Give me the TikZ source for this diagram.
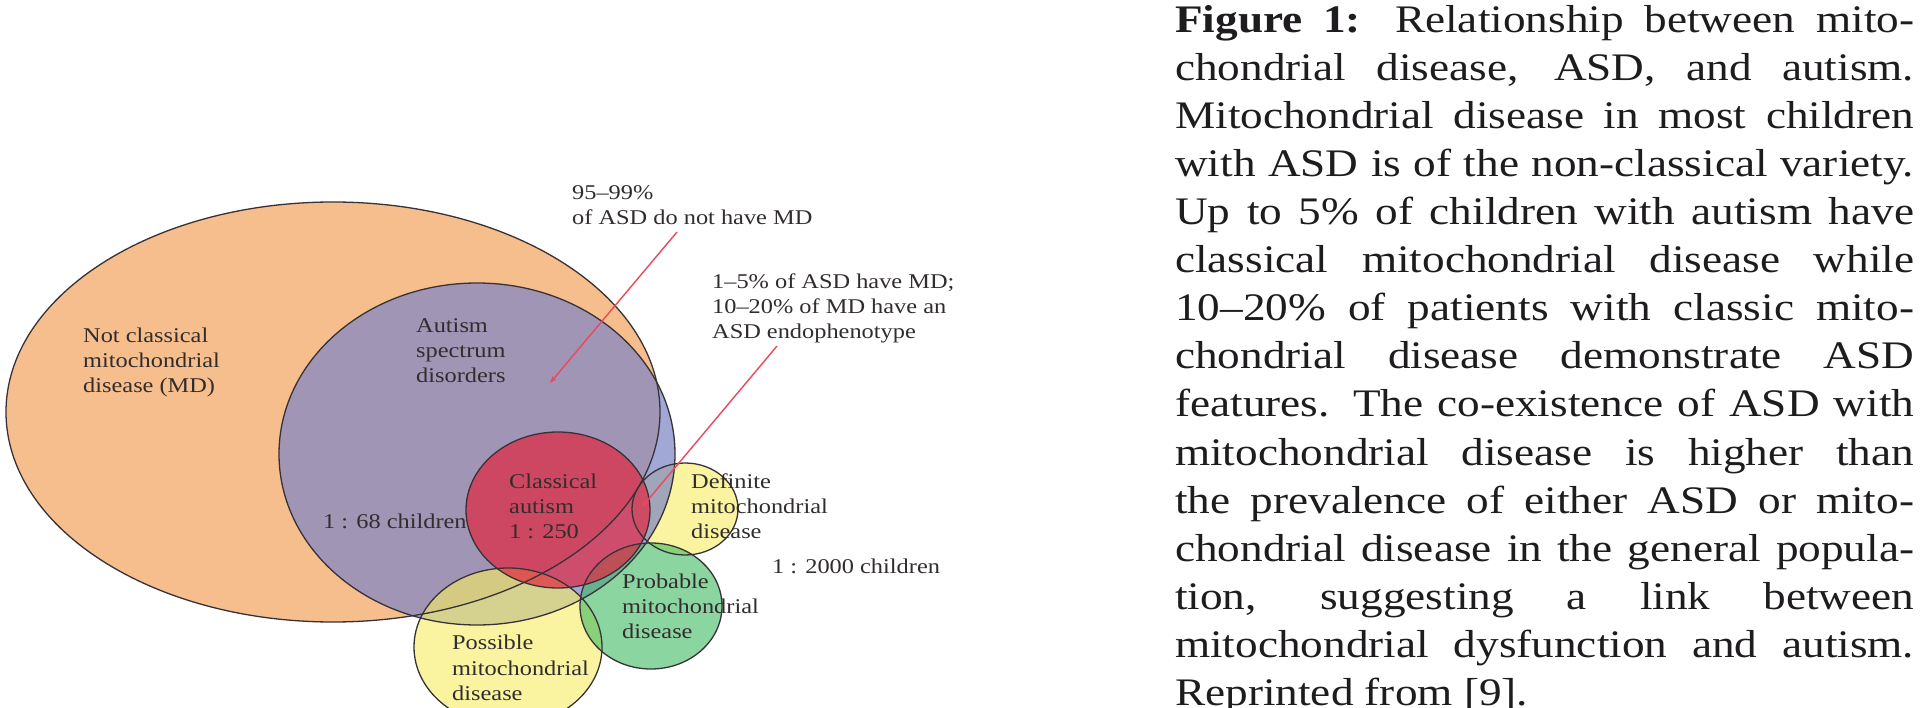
\documentclass[tikz,border=0pt]{standalone}
\usepackage{fontspec}
\setmainfont{Liberation Serif}[FakeStretch=1.16]
\usetikzlibrary{shapes.geometric,arrows.meta}
\definecolor{mdorange}{RGB}{246,190,140}
\definecolor{asdblue}{RGB}{125,133,198}
\definecolor{autred}{RGB}{226,39,63}
\definecolor{mityel}{RGB}{247,238,97}
\definecolor{mitgrn}{RGB}{63,185,97}
\definecolor{olgray}{RGB}{55,50,55}
\definecolor{ptrred}{RGB}{238,70,92}
\definecolor{lbltext}{RGB}{50,45,45}
\definecolor{captext}{RGB}{30,28,30}
\tikzset{
  venn/.style={ellipse, inner sep=0pt, outer sep=0pt},
  ol/.style={draw=olgray, line width=1.3pt},
  lbl/.style={anchor=base west, inner sep=0pt, text=lbltext, font=\fontsize{21}{25}\selectfont},
  captxt/.style={anchor=base west, inner sep=0pt, text=captext, font=\fontsize{39}{48}\selectfont},
  ptr/.style={draw=ptrred, line width=1.4pt, -{Stealth[length=7pt,width=5pt]}}
}
\newcommand{\capline}[1]{\makebox[739pt][s]{#1}}
\begin{document}
\begin{tikzpicture}[x=1pt,y=-1pt]
\clip (0,0) rectangle (1920,708);
\fill[white] (0,0) rectangle (1920,708);
% regions (fills)
\node[venn, fill=mdorange, minimum width=654pt, minimum height=420pt] (md) at (333,412) {};
\node[venn, fill=mityel, fill opacity=0.6, minimum width=106pt, minimum height=92pt] (def) at (685,509) {};
\node[venn, fill=asdblue, fill opacity=0.71, minimum width=396pt, minimum height=342pt] (asd) at (477,454) {};
\node[venn, fill=mityel, fill opacity=0.6, minimum width=188pt, minimum height=158pt] (pos) at (508,647) {};
\node[venn, fill=mitgrn, fill opacity=0.6, minimum width=142pt, minimum height=126pt] (prob) at (651,606) {};
\node[venn, fill=autred, fill opacity=0.7, minimum width=184pt, minimum height=156pt] (ca) at (558,510) {};
% outlines
\draw[ol] (md.center) ellipse [x radius=327pt, y radius=210pt];
\draw[ol] (def.center) ellipse [x radius=53pt, y radius=46pt];
\draw[ol] (asd.center) ellipse [x radius=198pt, y radius=171pt];
\draw[ol] (pos.center) ellipse [x radius=94pt, y radius=79pt];
\draw[ol] (prob.center) ellipse [x radius=71pt, y radius=63pt];
\draw[ol] (ca.center) ellipse [x radius=92pt, y radius=78pt];
% labels
\node[lbl] (nc1) at (83,343) {Not classical};
\node[lbl] (nc2) at (83,368) {mitochondrial};
\node[lbl] (nc3) at (83,393) {disease (MD)};
\node[lbl] (as1) at (416,333) {Autism};
\node[lbl] (as2) at (416,358) {spectrum};
\node[lbl] (as3) at (416,383) {disorders};
\node[lbl] (r68) at (323,528) {1 : 68 children};
\node[lbl] (ca1) at (509,488) {Classical};
\node[lbl] (ca2) at (509,513) {autism};
\node[lbl] (ca3) at (509,538) {1 : 250};
\node[lbl] (de1) at (691,488) {Definite};
\node[lbl] (de2) at (691,513) {mitochondrial};
\node[lbl] (de3) at (691,538) {disease};
\node[lbl] (r2000) at (772,573) {1 : 2000 children};
\node[lbl] (pr1) at (622,588) {Probable};
\node[lbl] (pr2) at (622,613) {mitochondrial};
\node[lbl] (pr3) at (622,638) {disease};
\node[lbl] (po1) at (452,649) {Possible};
\node[lbl] (po2) at (452,675) {mitochondrial};
\node[lbl] (po3) at (452,700) {disease};
\node[lbl] (n1) at (572,200) {95--99\%};
\node[lbl] (n2) at (572,225) {of ASD do not have MD};
\node[lbl] (h1) at (712,289) {1--5\% of ASD have MD;};
\node[lbl] (h2) at (712,314) {10--20\% of MD have an};
\node[lbl] (h3) at (712,339) {ASD endophenotype};
% pointers
\coordinate (p1s) at (677,232);
\coordinate (p1e) at (550,383);
\coordinate (p2s) at (777,346);
\coordinate (p2e) at (642,507);
\draw[ptr] (p1s) -- (p1e);
\draw[ptr] (p2s) -- (p2e);
% caption
\node[captxt] (c1) at (1175,33) {\capline{\textbf{Figure 1:} Relationship between mito-}};
\node[captxt] (c2) at (1175,81) {\capline{chondrial disease, ASD, and autism.}};
\node[captxt] (c3) at (1175,129) {\capline{Mitochondrial disease in most children}};
\node[captxt] (c4) at (1175,177) {\capline{with ASD is of the non-classical variety.}};
\node[captxt] (c5) at (1175,225) {\capline{Up to 5\% of children with autism have}};
\node[captxt] (c6) at (1175,273) {\capline{classical mitochondrial disease while}};
\node[captxt] (c7) at (1175,321) {\capline{10--20\% of patients with classic mito-}};
\node[captxt] (c8) at (1175,369) {\capline{chondrial disease demonstrate ASD}};
\node[captxt] (c9) at (1175,417) {\capline{features. The co-existence of ASD with}};
\node[captxt] (c10) at (1175,465) {\capline{mitochondrial disease is higher than}};
\node[captxt] (c11) at (1175,513) {\capline{the prevalence of either ASD or mito-}};
\node[captxt] (c12) at (1175,561) {\capline{chondrial disease in the general popula-}};
\node[captxt] (c13) at (1175,609) {\capline{tion, suggesting a link between}};
\node[captxt] (c14) at (1175,657) {\capline{mitochondrial dysfunction and autism.}};
\node[captxt] (c15) at (1175,705) {Reprinted from [9].};
\end{tikzpicture}
\end{document}
